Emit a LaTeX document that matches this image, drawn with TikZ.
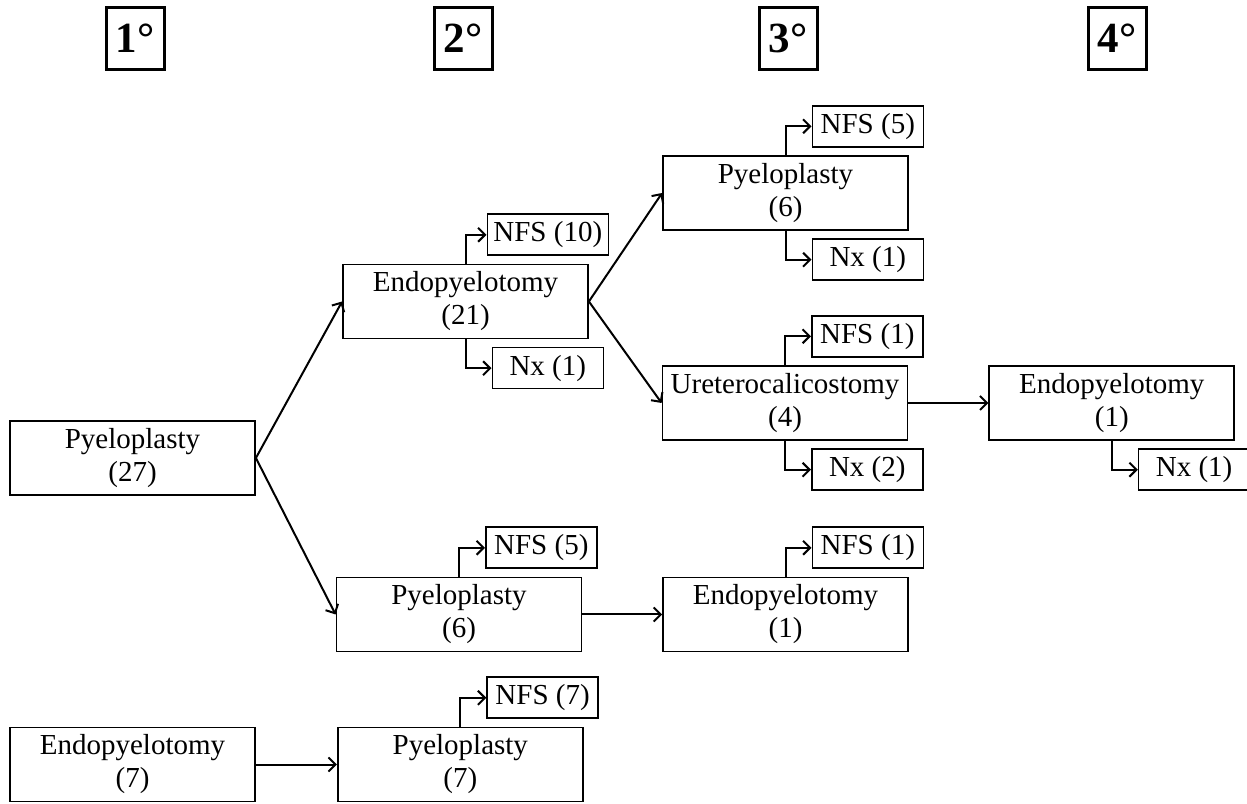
\documentclass[tikz,border=0pt]{standalone}
\usepackage{fontspec}
\setmainfont{Liberation Serif}
\usetikzlibrary{positioning,arrows.meta}

\begin{document}
\begin{tikzpicture}[x=1pt,y=1pt,>={Straight Barb[length=7pt,width=14pt]},
  stage/.style={rectangle,draw,line width=1.8pt,minimum width=245pt,minimum height=74pt,align=center,font=\fontsize{29}{33}\selectfont},
  outcome/.style={rectangle,draw,line width=1.6pt,minimum width=111pt,minimum height=41pt,inner sep=2pt,font=\fontsize{29}{33}\selectfont},
  order/.style={rectangle,draw,line width=3pt,minimum width=58pt,minimum height=62pt,inner sep=0pt,font=\fontsize{43}{44}\selectfont\bfseries},
  link/.style={->,line width=2pt}]
\useasboundingbox (0,0) rectangle (1247,803);

\node[order] (o1) at (135,764.5) {1°};
\node[order] (o2) at (463,764.5) {2°};
\node[order] (o3) at (788,764.5) {3°};
\node[order] (o4) at (1117,764.5) {4°};

\node[stage] (p27) at (132.5,345) {Pyeloplasty\\(27)};
\node[stage] (e21) at (465.5,501.5) {Endopyelotomy\\(21)};
\node[stage] (p6a) at (785.5,610) {Pyeloplasty\\(6)};
\node[stage] (u4) at (785,400) {Ureterocalicostomy\\(4)};
\node[stage,right=80pt of u4] (e1a) {Endopyelotomy\\(1)};
\node[stage] (p6b) at (459,188.5) {Pyeloplasty\\(6)};
\node[stage] (e1b) at (785.5,188.5) {Endopyelotomy\\(1)};
\node[stage] (e7) at (132.5,38.5) {Endopyelotomy\\(7)};
\node[stage,right=81pt of e7] (p7) {Pyeloplasty\\(7)};

\node[outcome,minimum width=121pt,above right=7.5pt and 21pt of e21.north] (e21nfs) {NFS (10)};
\node[outcome,below right=7.5pt and 26pt of e21.south] (e21nx) {Nx (1)};
\node[outcome,above right=7.5pt and 26pt of p6a.north] (p6anfs) {NFS (5)};
\node[outcome,below right=7.5pt and 26pt of p6a.south] (p6anx) {Nx (1)};
\node[outcome,above right=7.5pt and 26pt of u4.north] (u4nfs) {NFS (1)};
\node[outcome,below right=7.5pt and 26pt of u4.south] (u4nx) {Nx (2)};
\node[outcome,below right=7.5pt and 26pt of e1a.south] (e1anx) {Nx (1)};
\node[outcome,above right=7.5pt and 26pt of p6b.north] (p6bnfs) {NFS (5)};
\node[outcome,above right=7.5pt and 26pt of e1b.north] (e1bnfs) {NFS (1)};
\node[outcome,above right=7.5pt and 26pt of p7.north] (p7nfs) {NFS (7)};

\draw[link] (p27.east) -- (e21.west);
\draw[link] (p27.east) -- (p6b.west);
\draw[link] (e21.east) -- (p6a.west);
\draw[link] (e21.east) -- (u4.west);
\draw[link] (u4) -- (e1a);
\draw[link] (p6b) -- (e1b);
\draw[link] (e7) -- (p7);

\draw[link] (e21.north) |- (e21nfs);
\draw[link] (e21.south) |- (e21nx);
\draw[link] (p6a.north) |- (p6anfs);
\draw[link] (p6a.south) |- (p6anx);
\draw[link] (u4.north) |- (u4nfs);
\draw[link] (u4.south) |- (u4nx);
\draw[link] (e1a.south) |- (e1anx);
\draw[link] (p6b.north) |- (p6bnfs);
\draw[link] (e1b.north) |- (e1bnfs);
\draw[link] (p7.north) |- (p7nfs);
    %
\end{tikzpicture}
\end{document}
